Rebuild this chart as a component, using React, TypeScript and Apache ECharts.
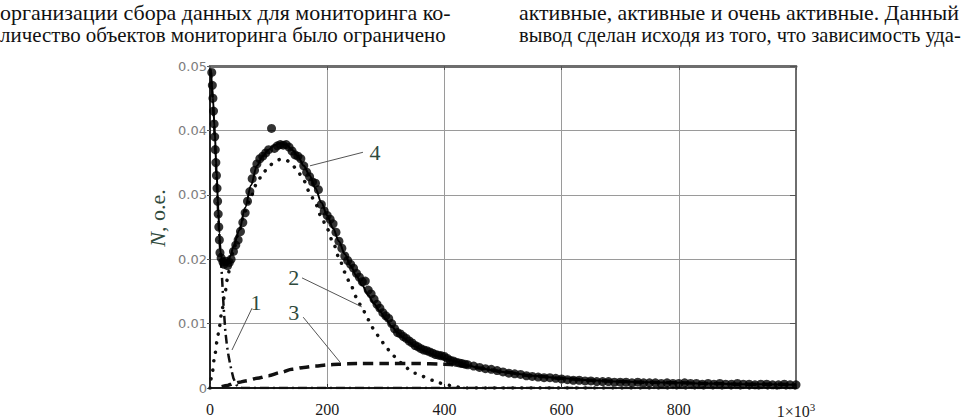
import React, { useEffect, useRef } from "react";
import * as echarts from "echarts";

// ---- top text (page fragment above the figure) ----
const topLeftLines = [
  "организации сбора данных для мониторинга ко-",
  "личество объектов мониторинга было ограничено",
];
const topRightLines = [
  "активные, активные и очень активные. Данный",
  "вывод сделан исходя из того, что зависимость уда-",
];

// ---- axis ticks ----
const xTickValues = [0, 200, 400, 600, 800, 1000];
const yTickValues = [0, 0.01, 0.02, 0.03, 0.04, 0.05];
const yAxisTitleItalic = "N";
const yAxisTitleRest = ", о.е.";

// ---- empirical points [x, N] ----
const empirical: [number, number][] = [
  [3, 0.049], [4, 0.047], [5, 0.045], [6, 0.043], [7, 0.041], [8, 0.039], [9, 0.037],
  [10, 0.035], [11, 0.033], [12, 0.031], [13, 0.029], [14, 0.027], [15, 0.025],
  [16, 0.023], [17, 0.021], [19, 0.0202], [22, 0.0196], [24, 0.0192], [27, 0.0197],
  [30, 0.019], [33, 0.0195], [36, 0.02], [40, 0.0212], [44, 0.0222], [48, 0.023],
  [52, 0.0243], [56, 0.0257], [60, 0.0272], [64, 0.029], [68, 0.0305], [72, 0.0325],
  [76, 0.0338], [80, 0.0348], [85, 0.0356], [90, 0.036], [95, 0.0365], [100, 0.037],
  [105, 0.0403], [110, 0.0372], [115, 0.0376], [120, 0.0378], [125, 0.0377],
  [130, 0.0378], [135, 0.0374], [140, 0.0368], [145, 0.0362], [150, 0.036],
  [155, 0.0356], [160, 0.0345], [165, 0.0335], [170, 0.0328], [175, 0.032],
  [180, 0.0318], [185, 0.0308], [190, 0.0285], [195, 0.0275], [200, 0.0268],
  [205, 0.0262], [210, 0.0255], [215, 0.0242], [220, 0.0228], [225, 0.0217],
  [230, 0.0205], [235, 0.0198], [240, 0.0192], [245, 0.0186], [250, 0.0178],
  [255, 0.0172], [260, 0.0165], [265, 0.0166], [270, 0.0152], [275, 0.0146],
  [280, 0.0138], [285, 0.013], [290, 0.0124], [295, 0.0117], [300, 0.0112],
  [305, 0.0108], [310, 0.01], [315, 0.0092], [320, 0.0086], [325, 0.0084],
  [330, 0.008], [335, 0.0077], [340, 0.0073], [345, 0.007], [350, 0.0066],
  [355, 0.0064], [360, 0.0061], [365, 0.0059], [370, 0.0058], [375, 0.0056],
  [380, 0.0054], [385, 0.0052], [390, 0.0051], [395, 0.005], [400, 0.0049],
  [405, 0.0046], [410, 0.0043], [415, 0.0042], [420, 0.004], [425, 0.0039],
  [430, 0.0038], [435, 0.0037], [440, 0.0036], [450, 0.0034], [460, 0.0032],
  [470, 0.003], [480, 0.0029], [490, 0.0027], [500, 0.0025], [510, 0.0023],
  [520, 0.0022], [530, 0.0021], [540, 0.0019], [550, 0.0018], [560, 0.0017],
  [570, 0.0016], [580, 0.0016], [590, 0.0015], [600, 0.0014], [610, 0.0013],
  [620, 0.0012], [630, 0.0012], [640, 0.0011], [650, 0.0011], [660, 0.001],
  [670, 0.001], [680, 0.001], [690, 0.0009], [700, 0.0009], [710, 0.0009],
  [720, 0.0008], [730, 0.0009], [740, 0.0008], [750, 0.0008], [760, 0.0008],
  [770, 0.0007], [780, 0.0008], [790, 0.0007], [800, 0.0007], [810, 0.0008],
  [820, 0.0007], [830, 0.0007], [840, 0.0006], [850, 0.0007], [860, 0.0006],
  [870, 0.0007], [880, 0.0006], [890, 0.0006], [900, 0.0007], [910, 0.0006],
  [920, 0.0006], [930, 0.0005], [940, 0.0006], [950, 0.0006], [960, 0.0005],
  [970, 0.0005], [980, 0.0006], [990, 0.0005], [1000, 0.0005],
];

// ---- curve 1 (dash-dot) ----
const curve1: [number, number][] = [
  [1, 0.0495], [3, 0.047], [5, 0.044], [8, 0.039], [11, 0.033], [14, 0.027],
  [17, 0.022], [20, 0.018], [23, 0.013], [26, 0.009], [29, 0.0065], [32, 0.0048],
  [36, 0.003], [40, 0.0015], [45, 0.0005], [50, 0.0001], [55, 0], [200, 0],
  [400, 0], [600, 0], [800, 0], [1000, 0],
];

// ---- curve 2 (dotted) ----
const curve2: [number, number][] = [
  [0, 0], [4, 0.0025], [8, 0.005], [12, 0.0072], [16, 0.0095], [20, 0.0118],
  [25, 0.0145], [30, 0.017], [35, 0.0195], [40, 0.0215], [50, 0.0245], [60, 0.0275],
  [70, 0.0298], [80, 0.0318], [90, 0.0333], [100, 0.0344], [110, 0.0351],
  [120, 0.0355], [130, 0.0354], [140, 0.0347], [150, 0.0336], [160, 0.0322],
  [170, 0.0304], [180, 0.0286], [190, 0.0266], [200, 0.0247], [210, 0.0226],
  [220, 0.0203], [230, 0.018], [240, 0.016], [250, 0.0141], [260, 0.0123],
  [270, 0.0106], [280, 0.0091], [290, 0.0077], [300, 0.0064], [310, 0.0053],
  [320, 0.0044], [330, 0.0036], [340, 0.0029], [350, 0.0023], [360, 0.0019],
  [370, 0.0016], [380, 0.0012], [390, 0.0008], [400, 0.0006], [410, 0.0004],
  [420, 0.0002], [430, 0], [600, 0], [800, 0], [1000, 0],
];

// ---- curve 3 (dashed) ----
const curve3: [number, number][] = [
  [20, 0.0002], [30, 0.0004], [40, 0.0007], [50, 0.0009], [60, 0.0011],
  [80, 0.0015], [100, 0.0019], [120, 0.0024], [140, 0.0029], [160, 0.0032],
  [180, 0.0034], [200, 0.0036], [220, 0.0037], [250, 0.0038], [300, 0.0038],
  [350, 0.0038], [400, 0.0037], [420, 0.0036], [440, 0.0034], [460, 0.0031],
  [480, 0.0028], [500, 0.0025], [550, 0.0019], [600, 0.0015], [650, 0.0012],
  [700, 0.001], [750, 0.0009], [800, 0.0008], [850, 0.0007], [900, 0.0006],
  [950, 0.0006], [1000, 0.0005],
];

// ---- curve 4 (solid, total) ----
const curve4: [number, number][] = [
  [2, 0.049], [5, 0.045], [8, 0.04], [11, 0.034], [14, 0.028], [16, 0.024],
  [18, 0.021], [21, 0.0197], [25, 0.0193], [30, 0.0195], [35, 0.0205], [40, 0.022],
  [50, 0.0245], [60, 0.028], [70, 0.0315], [80, 0.0345], [90, 0.036], [100, 0.037],
  [110, 0.0377], [120, 0.038], [130, 0.0378], [140, 0.037], [150, 0.036],
  [160, 0.0345], [170, 0.033], [180, 0.031], [190, 0.0288], [200, 0.0268],
  [210, 0.0248], [220, 0.0228], [230, 0.0208], [240, 0.019], [250, 0.0174],
  [260, 0.0159], [270, 0.0144], [280, 0.0131], [290, 0.0119], [300, 0.0107],
  [310, 0.0096], [320, 0.0086], [330, 0.0078], [340, 0.0071], [350, 0.0065],
  [360, 0.006], [370, 0.0056], [380, 0.0052], [390, 0.0049], [400, 0.0046],
  [420, 0.0041], [440, 0.0035], [460, 0.0031], [480, 0.0028], [500, 0.0025],
  [550, 0.0019], [600, 0.0015], [650, 0.0012], [700, 0.001], [750, 0.0009],
  [800, 0.0008], [850, 0.0007], [900, 0.0006], [950, 0.0006], [1000, 0.0005],
];

// ---- curve labels with leader lines (data coordinates) ----
const curveLabels = [
  { text: "1", at: [78.5, 0.0132], from: [71.7, 0.0124], to: [37.5, 0.0059] },
  { text: "2", at: [143, 0.0172], from: [157, 0.0171], to: [259, 0.0126] },
  { text: "3", at: [143, 0.0118], from: [159, 0.011], to: [222, 0.004] },
  { text: "4", at: [281.6, 0.0365], from: [261, 0.0366], to: [170.6, 0.0345] },
];

const SERIF = "Liberation Serif, Times New Roman, serif";
const SANS = "DejaVu Sans, sans-serif";
const GREEN = "#2f4a3c";

function measure(text: string, font: string): number {
  const c = document.createElement("canvas").getContext("2d");
  if (!c) return text.length * 8;
  c.font = font;
  return c.measureText(text).width;
}

export default function App() {
  const ref = useRef<HTMLDivElement>(null);

  useEffect(() => {
    document.body.style.margin = "0";
    if (!ref.current) return;
    const chart = echarts.init(ref.current, undefined, { renderer: "svg" });

    const option: any = {
      animation: false,
      backgroundColor: "#ffffff",
      grid: { left: 210, right: 166, top: 66, bottom: 31, containLabel: false },
      xAxis: [
        {
          type: "value",
          min: 0,
          max: 1000,
          interval: 200,
          position: "bottom",
          axisLine: { show: true, onZero: false, lineStyle: { color: "#1a1a1a", width: 2 } },
          axisTick: { show: true, inside: true, length: 4, lineStyle: { color: "#333" } },
          axisLabel: {
            margin: 13,
            color: "#1a1a1a",
            fontFamily: SERIF,
            fontSize: 16,
            formatter: (v: number) =>
              xTickValues.includes(v) ? (v === 1000 ? "{b|1×10}{s|3}" : String(v)) : "",
            rich: {
              b: { fontFamily: SERIF, fontSize: 16, color: "#1a1a1a" },
              s: { fontFamily: SERIF, fontSize: 11, color: "#1a1a1a", padding: [0, 0, 9, 0] },
            },
          },
          splitLine: { show: true, lineStyle: { color: "#9a9a9a", width: 1 } },
        },
        {
          type: "value",
          min: 0,
          max: 1000,
          interval: 200,
          position: "top",
          axisLine: { show: true, onZero: false, lineStyle: { color: "#6e6e6e", width: 3 } },
          axisTick: { show: true, inside: true, length: 4, lineStyle: { color: "#555" } },
          axisLabel: { show: false },
          splitLine: { show: false },
        },
      ],
      yAxis: [
        {
          type: "value",
          min: 0,
          max: 0.05,
          interval: 0.01,
          position: "left",
          axisLine: { show: true, onZero: false, lineStyle: { color: "#222", width: 2 } },
          axisTick: { show: true, inside: false, length: 3, lineStyle: { color: "#555" } },
          axisLabel: {
            margin: 3,
            color: "#7c7c7c",
            fontFamily: SANS,
            fontSize: 13,
            formatter: (v: number) => {
              const t = yTickValues.find((y) => Math.abs(y - v) < 1e-9);
              if (t === undefined) return "";
              return t === 0 ? "0" : t.toFixed(2);
            },
          },
          splitLine: { show: true, lineStyle: { color: "#9a9a9a", width: 1 } },
        },
        {
          type: "value",
          min: 0,
          max: 0.05,
          interval: 0.01,
          position: "right",
          axisLine: { show: true, onZero: false, lineStyle: { color: "#6e6e6e", width: 2 } },
          axisTick: { show: true, inside: true, length: 6, lineStyle: { color: "#555" } },
          axisLabel: { show: false },
          splitLine: { show: false },
        },
      ],
      series: [
        {
          type: "line",
          name: "1",
          data: curve1,
          showSymbol: false,
          symbol: "none",
          lineStyle: { color: "#111", width: 2.5, type: [9, 4, 2, 4] },
          z: 3,
        },
        {
          type: "line",
          name: "2",
          data: curve2,
          showSymbol: false,
          symbol: "none",
          smooth: 0.3,
          smoothMonotone: "x",
          lineStyle: { color: "#111", width: 3.5, type: [0.1, 9], cap: "round" },
          z: 3,
        },
        {
          type: "line",
          name: "3",
          data: curve3,
          showSymbol: false,
          symbol: "none",
          smooth: 0.3,
          smoothMonotone: "x",
          lineStyle: { color: "#111", width: 3.5, type: [10, 6] },
          z: 3,
        },
        {
          type: "scatter",
          name: "data",
          data: empirical,
          symbol: "circle",
          symbolSize: 9,
          itemStyle: { color: "#000" },
          z: 4,
        },
        {
          type: "line",
          name: "4",
          data: curve4,
          showSymbol: false,
          symbol: "none",
          smooth: 0.3,
          smoothMonotone: "x",
          lineStyle: { color: "#000", width: 2 },
          z: 5,
        },
      ],
    };

    chart.setOption(option);

    const graphics: any[] = [];

    // top text, two justified columns
    const topFont = `21px ${SERIF}`;
    const cols = [
      { lines: topLeftLines, x0: 0, widths: [451, 446] },
      { lines: topRightLines, x0: 519, widths: [440, 442] },
    ];
    const lineYs = [13, 35];
    cols.forEach((col) => {
      col.lines.forEach((t, i) => {
        const w = measure(t, topFont);
        graphics.push({
          type: "text",
          x: col.x0,
          y: lineYs[i],
          scaleX: col.widths[i] / w,
          style: {
            text: t,
            font: topFont,
            fill: "#111",
            textAlign: "left",
            textVerticalAlign: "middle",
          },
        });
      });
    });

    // y axis title
    graphics.push({
      type: "text",
      x: 157,
      y: 218,
      rotation: Math.PI / 2,
      style: {
        text: `{i|${yAxisTitleItalic}}{r|${yAxisTitleRest}}`,
        textAlign: "center",
        textVerticalAlign: "middle",
        rich: {
          i: { fontFamily: SERIF, fontSize: 22, fontStyle: "italic", fill: GREEN, color: GREEN },
          r: { fontFamily: SERIF, fontSize: 22, fill: GREEN, color: GREEN },
        },
      },
    });

    // curve labels
    curveLabels.forEach((c) => {
      const p = chart.convertToPixel({ gridIndex: 0 }, c.at) as number[];
      const a = chart.convertToPixel({ gridIndex: 0 }, c.from) as number[];
      const b = chart.convertToPixel({ gridIndex: 0 }, c.to) as number[];
      graphics.push({
        type: "line",
        shape: { x1: a[0], y1: a[1], x2: b[0], y2: b[1] },
        style: { stroke: "#555", lineWidth: 1 },
        z: 10,
      });
      graphics.push({
        type: "text",
        x: p[0],
        y: p[1],
        style: {
          text: c.text,
          font: `22px ${SERIF}`,
          fill: GREEN,
          textAlign: "center",
          textVerticalAlign: "middle",
        },
        z: 10,
      });
    });

    chart.setOption({ graphic: graphics });

    return () => {
      chart.dispose();
    };
  }, []);

  return <div ref={ref} style={{ width: 962, height: 419 }} />;
}
